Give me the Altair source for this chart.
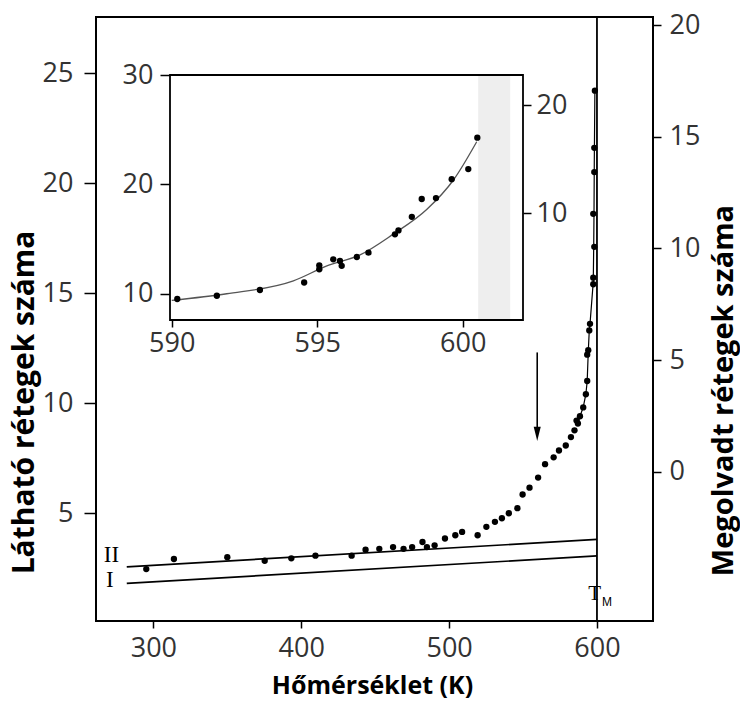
import altair as alt
import pandas as pd

# ---------------- data ----------------
main_T = [295.2, 313.9, 350.0, 375.3, 393.3, 409.6, 434.1, 443.5, 452.8, 462.1,
          469.2, 475.0, 482.0, 485.0, 490.2, 497.2, 504.2, 508.8, 519.3, 525.2,
          531.0, 535.7, 540.4, 546.2, 549.7, 554.4, 560.2, 564.9, 570.7, 574.3,
          578.9, 582.4, 584.8, 586.2, 587.1, 588.5, 590.7, 592.5, 593.4, 593.4,
          594.1, 594.8, 595.3, 597.5, 597.5, 598.2, 597.5, 598.2, 598.2, 598.6]
main_N = [2.45, 2.91, 2.99, 2.83, 2.94, 3.06, 3.06, 3.33, 3.37, 3.45,
          3.37, 3.45, 3.68, 3.45, 3.53, 3.84, 3.99, 4.14, 3.99, 4.37,
          4.60, 4.76, 4.99, 5.22, 5.84, 6.15, 6.61, 7.22, 7.53, 7.84,
          8.07, 8.45, 8.76, 9.20, 9.07, 9.40, 9.80, 10.4, 11.0, 12.2,
          12.4, 13.3, 13.6, 15.4, 15.7, 17.1, 18.6, 20.5, 21.6, 24.2]

upper_T = [587.1, 588.5, 590.7, 592.5, 593.4, 594.1, 594.8, 595.3, 597.5, 597.8, 598.0, 598.2, 598.6]
upper_N = [9.07, 9.40, 9.80, 10.4, 11.0, 12.3, 13.3, 13.6, 15.5, 17.1, 18.6, 21.0, 24.2]

line_T = [282.0, 600.0]
lineII_N = [2.55, 3.80]
lineI_N = [1.80, 3.05]

inset_T = [590.19, 591.55, 593.03, 594.55, 595.07, 595.07, 595.55, 595.78, 595.84, 596.36,
           596.76, 597.67, 597.79, 598.25, 598.59, 599.08, 599.62, 600.19, 600.50]
inset_N = [9.52, 9.82, 10.34, 11.03, 12.24, 12.60, 13.15, 13.00, 12.55, 13.36,
           13.76, 15.43, 15.79, 17.03, 18.66, 18.75, 20.48, 21.40, 24.27]

icurve_T = [590.0, 591.89, 594.18, 595.33, 596.47, 597.6, 598.76, 599.68, 600.48]
icurve_N = [9.40, 10.0, 11.18, 12.55, 13.55, 15.43, 17.7, 20.4, 23.9]

band_T = [600.53, 601.63]

TM = 600.0
arrow_T = 559.6
arrow_N = [12.3, 8.9, 8.6]

main_x_ticks = [300, 400, 500, 600]
main_y_ticks = [5, 10, 15, 20, 25]
right_y_ticks = [0, 5, 10, 15, 20]
inset_x_ticks = [590, 595, 600]
inset_y_ticks = [10, 20, 30]
inset_r_ticks = [10, 20]

# ---------------- geometry ----------------
W, H = 557, 604
X_DOM = [261.2, 637.9]
Y_DOM = [0.09, 27.55]
R_DOM = [-6.67, 20.36]
IX_DOM = [589.94, 602.07]
IY_DOM = [7.6, 30.0]
IR_DOM = [0.1, 22.8]
IX_RANGE = [74, 427]
IY_RANGE = [303, 58]

xs = alt.Scale(domain=X_DOM, range=[0, W], nice=False, zero=False)
ys = alt.Scale(domain=Y_DOM, range=[H, 0], nice=False, zero=False)
ixs = alt.Scale(domain=IX_DOM, range=IX_RANGE, nice=False, zero=False)
iys = alt.Scale(domain=IY_DOM, range=IY_RANGE, nice=False, zero=False)
irs = alt.Scale(domain=IR_DOM, range=IY_RANGE, nice=False, zero=False)

# ---------------- main panel ----------------
df_main = pd.DataFrame({"T": main_T, "N": main_N})
df_upper = pd.DataFrame({"T": upper_T, "N": upper_N})
df_lines = pd.DataFrame({
    "T": line_T + line_T,
    "N": lineII_N + lineI_N,
    "s": ["II", "II", "I", "I"],
})

x_axis = alt.Axis(orient="bottom", values=main_x_ticks, tickSize=7, labelPadding=7,
                  title="Hőmérséklet (K)", titleX=276, titleY=72, titleFontSize=25,
                  titleBaseline="alphabetic", titleAlign="center", labelFlush=False)
y_axis = alt.Axis(orient="left", values=main_y_ticks, tickSize=12, labelPadding=11,
                  title="Látható rétegek száma", titleAngle=270, titleX=-63, titleY=385,
                  titleFontSize=30,
                  titleBaseline="alphabetic", titleAlign="center", labelFlush=False)

lines = alt.Chart(df_lines).mark_line(color="black", strokeWidth=1.7).encode(
    x=alt.X("T:Q", scale=xs, axis=None),
    y=alt.Y("N:Q", scale=ys, axis=None),
    detail="s:N",
)
tm_rule = alt.Chart(pd.DataFrame({"T": [TM]})).mark_rule(color="black", strokeWidth=1.8).encode(
    x=alt.X("T:Q", scale=xs, axis=None),
)
upper = alt.Chart(df_upper).mark_line(color="black", strokeWidth=1.2).encode(
    x=alt.X("T:Q", scale=xs, axis=None),
    y=alt.Y("N:Q", scale=ys, axis=None),
    order="N:Q",
)
pts = alt.Chart(df_main).mark_circle(size=40, color="black", opacity=1).encode(
    x=alt.X("T:Q", scale=xs, axis=x_axis),
    y=alt.Y("N:Q", scale=ys, axis=y_axis),
)
arrow_rule = alt.Chart(pd.DataFrame({"T": [arrow_T], "N1": [arrow_N[0]], "N2": [arrow_N[1]]})).mark_rule(
    color="black", strokeWidth=1.6).encode(
    x=alt.X("T:Q", scale=xs, axis=None),
    y=alt.Y("N1:Q", scale=ys, axis=None),
    y2="N2:Q",
)
arrow_head = alt.Chart(pd.DataFrame({"T": [arrow_T], "N": [arrow_N[2]]})).mark_point(
    shape="M-0.5,-1L0.5,-1L0,1Z", filled=True, size=200, color="black", opacity=1).encode(
    x=alt.X("T:Q", scale=xs, axis=None),
    y=alt.Y("N:Q", scale=ys, axis=None),
)
roman = alt.Chart(pd.DataFrame({"T": [271.6, 270.6], "N": [3.08, 1.95], "lab": ["II", "I"]})).mark_text(
    font="Liberation Serif", fontSize=23, color="black", baseline="middle", align="center").encode(
    x=alt.X("T:Q", scale=xs, axis=None),
    y=alt.Y("N:Q", scale=ys, axis=None),
    text="lab:N",
)
tm_T = alt.Chart(pd.DataFrame({"T": [598.4], "N": [1.3], "lab": ["T"]})).mark_text(
    font="Liberation Serif", fontSize=21, color="black", baseline="middle", align="center").encode(
    x=alt.X("T:Q", scale=xs, axis=None),
    y=alt.Y("N:Q", scale=ys, axis=None),
    text="lab:N",
)
tm_M = alt.Chart(pd.DataFrame({"T": [606.8], "N": [0.95], "lab": ["M"]})).mark_text(
    font="Liberation Sans", fontSize=12, color="black", baseline="middle", align="center").encode(
    x=alt.X("T:Q", scale=xs, axis=None),
    y=alt.Y("N:Q", scale=ys, axis=None),
    text="lab:N",
)

main_right = alt.Chart(pd.DataFrame({"R": [0.0]})).mark_point(opacity=0).encode(
    y=alt.Y("R:Q", scale=alt.Scale(domain=R_DOM, range=[H, 0], nice=False, zero=False),
            axis=alt.Axis(orient="right", values=right_y_ticks, tickSize=8, labelPadding=8,
                          title="Megolvadt rétegek száma", titleAngle=270, titleX=79, titleY=373,
                          titleFontSize=29,
                          titleBaseline="alphabetic", titleAlign="center", labelFlush=False)),
)

# ---------------- inset ----------------
df_frame = pd.DataFrame({"x0": [IX_DOM[0]], "x1": [IX_DOM[1]], "y0": [IY_DOM[0]], "y1": [IY_DOM[1]]})
df_band = pd.DataFrame({"x0": [band_T[0]], "x1": [band_T[1]], "y0": [IY_DOM[0]], "y1": [IY_DOM[1]]})

ix_axis = alt.Axis(orient="bottom", offset=-(H - IY_RANGE[0]), values=inset_x_ticks, tickSize=7,
                   labelPadding=3, title=None, labelFlush=False)
iy_axis = alt.Axis(orient="left", offset=-IX_RANGE[0], values=inset_y_ticks, tickSize=10,
                   labelPadding=7, title=None, labelFlush=False)

frame_fill = alt.Chart(df_frame).mark_rect(fill="white").encode(
    x=alt.X("x0:Q", scale=ixs, axis=ix_axis), x2="x1:Q",
    y=alt.Y("y0:Q", scale=iys, axis=iy_axis), y2="y1:Q",
)
band = alt.Chart(df_band).mark_rect(fill="#eeeeee").encode(
    x=alt.X("x0:Q", scale=ixs, axis=None), x2="x1:Q",
    y=alt.Y("y0:Q", scale=iys, axis=None), y2="y1:Q",
)
icurve = alt.Chart(pd.DataFrame({"T": icurve_T, "N": icurve_N})).mark_line(
    color="#555555", strokeWidth=1.3, interpolate="monotone").encode(
    x=alt.X("T:Q", scale=ixs, axis=None),
    y=alt.Y("N:Q", scale=iys, axis=None),
)
ipts = alt.Chart(pd.DataFrame({"T": inset_T, "N": inset_N})).mark_circle(
    size=40, color="black", opacity=1).encode(
    x=alt.X("T:Q", scale=ixs, axis=None),
    y=alt.Y("N:Q", scale=iys, axis=None),
)
frame_stroke = alt.Chart(df_frame).mark_rect(fill="white", fillOpacity=0, stroke="black", strokeWidth=1.8).encode(
    x=alt.X("x0:Q", scale=ixs, axis=None), x2="x1:Q",
    y=alt.Y("y0:Q", scale=iys, axis=None), y2="y1:Q",
)
inset_right = alt.Chart(pd.DataFrame({"R": [10.0]})).mark_point(opacity=0).encode(
    y=alt.Y("R:Q", scale=irs,
            axis=alt.Axis(orient="right", offset=-(W - IX_RANGE[1]), values=inset_r_ticks,
                          tickSize=8, labelPadding=5, title=None, labelFlush=False)),
)

chart = alt.layer(
    lines, tm_rule, upper, pts, arrow_rule, arrow_head, roman, tm_T, tm_M, main_right,
    frame_fill, band, icurve, ipts, frame_stroke, inset_right,
).resolve_scale(
    x="independent", y="independent"
).properties(
    width=W, height=H,
    padding={"left": 96, "top": 17, "right": 87, "bottom": 81},
    autosize=alt.AutoSizeParams(type="none"),
).configure_view(
    stroke="black", strokeWidth=2
).configure_axis(
    grid=False, domain=False,
    labelFont="Open Sans", labelFontSize=27, labelColor="#333333",
    tickColor="black", tickWidth=1.5,
    titleFont="Open Sans", titleFontSize=25, titleFontWeight="bold", titleColor="black",
)

chart.save("out.html", embed_options={"renderer": "svg", "actions": False})
